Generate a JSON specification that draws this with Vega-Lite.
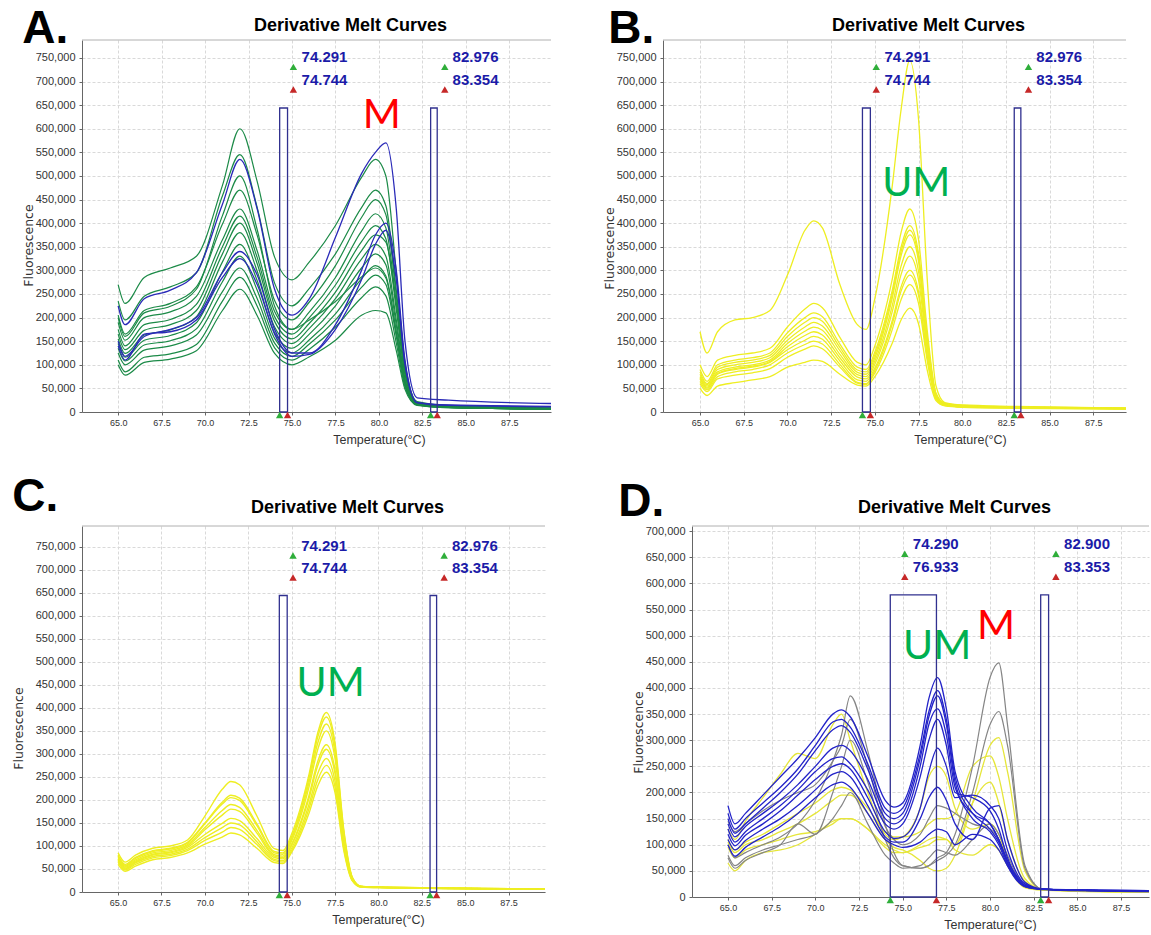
{
"$schema":"https://vega.github.io/schema/vega-lite/v6.json",
"padding":{"left":12,"top":5,"right":0,"bottom":0},
"spacing":27,
"resolve":{"scale":{"x":"independent","y":"independent"}},
"config":{
 "view":{"stroke":null},
 "title":{"font":"Liberation Sans, Arial, sans-serif","fontSize":18,"fontWeight":"bold","color":"#000000","dx":34,"offset":5,"anchor":"middle"},
 "axis":{"grid":true,"gridColor":"#d9d9d9","gridDash":[3,2],"domainColor":"#666666","tickColor":"#666666","labelColor":"#333333","titleColor":"#333333","titleFontWeight":"normal","tickSize":3,"labelOverlap":false},
 "axisX":{"labelFont":"Liberation Sans, Arial, sans-serif","labelFontSize":9,"labelPadding":3,"titleFont":"Liberation Sans, Arial, sans-serif","titleFontSize":12.5,"titlePadding":6},
 "axisY":{"labelFont":"Liberation Sans, Arial, sans-serif","labelFontSize":11,"labelPadding":4,"titleFont":"DejaVu Sans, sans-serif","titleFontSize":12.5,"titlePadding":0,"labelOverlap":false,"tickCount":16}
},
"datasets":{
"boxABC":[{"x1":74.291,"x2":74.744,"top":644000},{"x1":82.976,"x2":83.354,"top":644000}],
"triTopABC":[{"t":75.08,"f":731000,"k":"start"},{"t":75.08,"f":683000,"k":"end"},{"t":83.79,"f":731000,"k":"start"},{"t":83.79,"f":683000,"k":"end"}],
"triBotABC":[{"t":74.291,"f":0,"k":"start"},{"t":74.744,"f":0,"k":"end"},{"t":82.976,"f":0,"k":"start"},{"t":83.354,"f":0,"k":"end"}],
"labABC":[{"t":75.55,"f":752000,"label":"74.291"},{"t":75.55,"f":704000,"label":"74.744"},{"t":84.24,"f":752000,"label":"82.976"},{"t":84.24,"f":704000,"label":"83.354"}],
"boxD":[{"x1":74.29,"x2":76.933,"top":578000},{"x1":82.9,"x2":83.353,"top":578000}],
"triTopD":[{"t":75.12,"f":657000,"k":"start"},{"t":75.12,"f":613000,"k":"end"},{"t":83.77,"f":657000,"k":"start"},{"t":83.77,"f":613000,"k":"end"}],
"triBotD":[{"t":74.29,"f":0,"k":"start"},{"t":76.933,"f":0,"k":"end"},{"t":82.9,"f":0,"k":"start"},{"t":83.353,"f":0,"k":"end"}],
"labD":[{"t":75.58,"f":676000,"label":"74.290"},{"t":75.58,"f":632000,"label":"76.933"},{"t":84.24,"f":676000,"label":"82.900"},{"t":84.24,"f":632000,"label":"83.353"}],
"A_green":[
{"s":"g1","t":65,"f":270000},{"s":"g1","t":65.4,"f":230000},{"s":"g1","t":66.5,"f":285000},{"s":"g1","t":68,"f":305000},{"s":"g1","t":69.5,"f":330000},{"s":"g1","t":71,"f":480000},{"s":"g1","t":72,"f":600000},{"s":"g1","t":73,"f":488000},{"s":"g1","t":74,"f":328000},{"s":"g1","t":75,"f":280000},{"s":"g1","t":76,"f":318000},{"s":"g1","t":77.5,"f":395000},{"s":"g1","t":79,"f":497000},{"s":"g1","t":79.8,"f":535000},{"s":"g1","t":80.4,"f":500000},{"s":"g1","t":81,"f":295000},{"s":"g1","t":81.5,"f":105000},{"s":"g1","t":82.2,"f":22000},{"s":"g1","t":84,"f":14000},{"s":"g1","t":90,"f":9000},
{"s":"g2","t":65,"f":235000},{"s":"g2","t":65.4,"f":195000},{"s":"g2","t":66.5,"f":245000},{"s":"g2","t":68,"f":265000},{"s":"g2","t":69.5,"f":295000},{"s":"g2","t":71,"f":458000},{"s":"g2","t":72,"f":545000},{"s":"g2","t":73,"f":433000},{"s":"g2","t":74,"f":273000},{"s":"g2","t":75,"f":225000},{"s":"g2","t":76,"f":262000},{"s":"g2","t":77.5,"f":335000},{"s":"g2","t":79,"f":433000},{"s":"g2","t":79.8,"f":470000},{"s":"g2","t":80.4,"f":437000},{"s":"g2","t":81,"f":258000},{"s":"g2","t":81.5,"f":94000},{"s":"g2","t":82.2,"f":20000},{"s":"g2","t":84,"f":13000},{"s":"g2","t":90,"f":8000},
{"s":"g3","t":65,"f":205000},{"s":"g3","t":65.4,"f":165000},{"s":"g3","t":66.5,"f":215000},{"s":"g3","t":68,"f":230000},{"s":"g3","t":69.5,"f":265000},{"s":"g3","t":71,"f":398000},{"s":"g3","t":72,"f":470000},{"s":"g3","t":73,"f":374000},{"s":"g3","t":74,"f":236000},{"s":"g3","t":75,"f":195000},{"s":"g3","t":76,"f":233000},{"s":"g3","t":77.5,"f":310000},{"s":"g3","t":79,"f":412000},{"s":"g3","t":79.8,"f":450000},{"s":"g3","t":80.4,"f":418000},{"s":"g3","t":81,"f":248000},{"s":"g3","t":81.5,"f":90000},{"s":"g3","t":82.2,"f":19000},{"s":"g3","t":84,"f":12000},{"s":"g3","t":90,"f":8000},
{"s":"g4","t":65,"f":190000},{"s":"g4","t":65.4,"f":152000},{"s":"g4","t":66.5,"f":200000},{"s":"g4","t":68,"f":212000},{"s":"g4","t":69.5,"f":245000},{"s":"g4","t":71,"f":365000},{"s":"g4","t":72,"f":430000},{"s":"g4","t":73,"f":341000},{"s":"g4","t":74,"f":213000},{"s":"g4","t":75,"f":175000},{"s":"g4","t":76,"f":212000},{"s":"g4","t":77.5,"f":285000},{"s":"g4","t":79,"f":383000},{"s":"g4","t":79.8,"f":420000},{"s":"g4","t":80.4,"f":390000},{"s":"g4","t":81,"f":231000},{"s":"g4","t":81.5,"f":84000},{"s":"g4","t":82.2,"f":18000},{"s":"g4","t":84,"f":12000},{"s":"g4","t":90,"f":7000},
{"s":"g5","t":65,"f":175000},{"s":"g5","t":65.4,"f":140000},{"s":"g5","t":66.5,"f":185000},{"s":"g5","t":68,"f":196000},{"s":"g5","t":69.5,"f":228000},{"s":"g5","t":71,"f":350000},{"s":"g5","t":72,"f":415000},{"s":"g5","t":73,"f":327000},{"s":"g5","t":74,"f":202000},{"s":"g5","t":75,"f":165000},{"s":"g5","t":76,"f":200000},{"s":"g5","t":77.5,"f":269000},{"s":"g5","t":79,"f":361000},{"s":"g5","t":79.8,"f":395000},{"s":"g5","t":80.4,"f":367000},{"s":"g5","t":81,"f":217000},{"s":"g5","t":81.5,"f":79000},{"s":"g5","t":82.2,"f":18000},{"s":"g5","t":84,"f":11000},{"s":"g5","t":90,"f":7000},
{"s":"g6","t":65,"f":165000},{"s":"g6","t":65.4,"f":132000},{"s":"g6","t":66.5,"f":173000},{"s":"g6","t":68,"f":185000},{"s":"g6","t":69.5,"f":215000},{"s":"g6","t":71,"f":335000},{"s":"g6","t":72,"f":400000},{"s":"g6","t":73,"f":314000},{"s":"g6","t":74,"f":192000},{"s":"g6","t":75,"f":155000},{"s":"g6","t":76,"f":188000},{"s":"g6","t":77.5,"f":254000},{"s":"g6","t":79,"f":342000},{"s":"g6","t":79.8,"f":375000},{"s":"g6","t":80.4,"f":360000},{"s":"g6","t":81,"f":230000},{"s":"g6","t":81.5,"f":85000},{"s":"g6","t":82.2,"f":18000},{"s":"g6","t":84,"f":11000},{"s":"g6","t":90,"f":7000},
{"s":"g7","t":65,"f":155000},{"s":"g7","t":65.4,"f":124000},{"s":"g7","t":66.5,"f":163000},{"s":"g7","t":68,"f":174000},{"s":"g7","t":69.5,"f":202000},{"s":"g7","t":71,"f":318000},{"s":"g7","t":72,"f":380000},{"s":"g7","t":73,"f":298000},{"s":"g7","t":74,"f":180000},{"s":"g7","t":75,"f":145000},{"s":"g7","t":76,"f":177000},{"s":"g7","t":77.5,"f":240000},{"s":"g7","t":79,"f":324000},{"s":"g7","t":79.8,"f":355000},{"s":"g7","t":80.4,"f":330000},{"s":"g7","t":81,"f":195000},{"s":"g7","t":81.5,"f":71000},{"s":"g7","t":82.2,"f":17000},{"s":"g7","t":84,"f":11000},{"s":"g7","t":90,"f":7000},
{"s":"g8","t":65,"f":145000},{"s":"g8","t":65.4,"f":116000},{"s":"g8","t":66.5,"f":152000},{"s":"g8","t":68,"f":162000},{"s":"g8","t":69.5,"f":189000},{"s":"g8","t":71,"f":297000},{"s":"g8","t":72,"f":355000},{"s":"g8","t":73,"f":278000},{"s":"g8","t":74,"f":168000},{"s":"g8","t":75,"f":135000},{"s":"g8","t":76,"f":165000},{"s":"g8","t":77.5,"f":225000},{"s":"g8","t":79,"f":305000},{"s":"g8","t":79.8,"f":335000},{"s":"g8","t":80.4,"f":312000},{"s":"g8","t":81,"f":184000},{"s":"g8","t":81.5,"f":67000},{"s":"g8","t":82.2,"f":16000},{"s":"g8","t":84,"f":10000},{"s":"g8","t":90,"f":7000},
{"s":"g9","t":65,"f":135000},{"s":"g9","t":65.4,"f":108000},{"s":"g9","t":66.5,"f":142000},{"s":"g9","t":68,"f":151000},{"s":"g9","t":69.5,"f":176000},{"s":"g9","t":71,"f":276000},{"s":"g9","t":72,"f":330000},{"s":"g9","t":73,"f":258000},{"s":"g9","t":74,"f":156000},{"s":"g9","t":75,"f":125000},{"s":"g9","t":76,"f":153000},{"s":"g9","t":77.5,"f":208000},{"s":"g9","t":79,"f":282000},{"s":"g9","t":79.8,"f":310000},{"s":"g9","t":80.4,"f":288000},{"s":"g9","t":81,"f":170000},{"s":"g9","t":81.5,"f":62000},{"s":"g9","t":82.2,"f":16000},{"s":"g9","t":84,"f":10000},{"s":"g9","t":90,"f":6000},
{"s":"g10","t":65,"f":125000},{"s":"g10","t":65.4,"f":100000},{"s":"g10","t":66.5,"f":131000},{"s":"g10","t":68,"f":140000},{"s":"g10","t":69.5,"f":163000},{"s":"g10","t":71,"f":255000},{"s":"g10","t":72,"f":305000},{"s":"g10","t":73,"f":240000},{"s":"g10","t":74,"f":146000},{"s":"g10","t":75,"f":118000},{"s":"g10","t":76,"f":144000},{"s":"g10","t":77.5,"f":195000},{"s":"g10","t":79,"f":264000},{"s":"g10","t":79.8,"f":290000},{"s":"g10","t":80.4,"f":270000},{"s":"g10","t":81,"f":160000},{"s":"g10","t":81.5,"f":58000},{"s":"g10","t":82.2,"f":15000},{"s":"g10","t":84,"f":10000},{"s":"g10","t":90,"f":6000},
{"s":"g11","t":65,"f":110000},{"s":"g11","t":65.4,"f":85000},{"s":"g11","t":66.5,"f":116000},{"s":"g11","t":68,"f":123000},{"s":"g11","t":69.5,"f":143000},{"s":"g11","t":71,"f":235000},{"s":"g11","t":72,"f":285000},{"s":"g11","t":73,"f":224000},{"s":"g11","t":74,"f":136000},{"s":"g11","t":75,"f":110000},{"s":"g11","t":76,"f":133000},{"s":"g11","t":77.5,"f":180000},{"s":"g11","t":79,"f":242000},{"s":"g11","t":79.8,"f":265000},{"s":"g11","t":80.4,"f":246000},{"s":"g11","t":81,"f":146000},{"s":"g11","t":81.5,"f":53000},{"s":"g11","t":82.2,"f":15000},{"s":"g11","t":84,"f":9000},{"s":"g11","t":90,"f":6000},
{"s":"g12","t":65,"f":100000},{"s":"g12","t":65.4,"f":78000},{"s":"g12","t":66.5,"f":105000},{"s":"g12","t":68,"f":112000},{"s":"g12","t":69.5,"f":130000},{"s":"g12","t":71,"f":215000},{"s":"g12","t":72,"f":260000},{"s":"g12","t":73,"f":204000},{"s":"g12","t":74,"f":124000},{"s":"g12","t":75,"f":100000},{"s":"g12","t":76,"f":117000},{"s":"g12","t":77.5,"f":152000},{"s":"g12","t":79,"f":205000},{"s":"g12","t":79.8,"f":215000},{"s":"g12","t":80.4,"f":210000},{"s":"g12","t":81,"f":130000},{"s":"g12","t":81.5,"f":48000},{"s":"g12","t":82.2,"f":14000},{"s":"g12","t":84,"f":9000},{"s":"g12","t":90,"f":6000},
{"s":"g13","t":65,"f":200000},{"s":"g13","t":65.4,"f":160000},{"s":"g13","t":66.5,"f":210000},{"s":"g13","t":68,"f":224000},{"s":"g13","t":69.5,"f":260000},{"s":"g13","t":71,"f":416000},{"s":"g13","t":72,"f":500000},{"s":"g13","t":73,"f":386000},{"s":"g13","t":74,"f":224000},{"s":"g13","t":75,"f":175000},{"s":"g13","t":76,"f":195000},{"s":"g13","t":77.5,"f":234000},{"s":"g13","t":79,"f":286000},{"s":"g13","t":79.8,"f":305000},{"s":"g13","t":80.4,"f":284000},{"s":"g13","t":81,"f":168000},{"s":"g13","t":81.5,"f":61000},{"s":"g13","t":82.2,"f":16000},{"s":"g13","t":84,"f":10000},{"s":"g13","t":90,"f":7000}
],
"A_blue":[
{"s":"b1","t":65,"f":225000},{"s":"b1","t":65.4,"f":185000},{"s":"b1","t":66.5,"f":240000},{"s":"b1","t":68,"f":258000},{"s":"b1","t":69.5,"f":295000},{"s":"b1","t":71,"f":440000},{"s":"b1","t":72,"f":535000},{"s":"b1","t":73,"f":430000},{"s":"b1","t":74,"f":260000},{"s":"b1","t":75,"f":205000},{"s":"b1","t":76,"f":240000},{"s":"b1","t":77.5,"f":370000},{"s":"b1","t":79,"f":505000},{"s":"b1","t":79.8,"f":550000},{"s":"b1","t":80.4,"f":570000},{"s":"b1","t":81,"f":430000},{"s":"b1","t":81.5,"f":150000},{"s":"b1","t":82.2,"f":30000},{"s":"b1","t":84,"f":25000},{"s":"b1","t":90,"f":18000},
{"s":"b2","t":65,"f":150000},{"s":"b2","t":65.4,"f":118000},{"s":"b2","t":66.5,"f":160000},{"s":"b2","t":68,"f":175000},{"s":"b2","t":69.5,"f":200000},{"s":"b2","t":71,"f":295000},{"s":"b2","t":72,"f":340000},{"s":"b2","t":73,"f":290000},{"s":"b2","t":74,"f":175000},{"s":"b2","t":75,"f":125000},{"s":"b2","t":76,"f":125000},{"s":"b2","t":77.5,"f":185000},{"s":"b2","t":79,"f":300000},{"s":"b2","t":79.8,"f":375000},{"s":"b2","t":80.4,"f":400000},{"s":"b2","t":81,"f":300000},{"s":"b2","t":81.5,"f":110000},{"s":"b2","t":82.2,"f":20000},{"s":"b2","t":84,"f":15000},{"s":"b2","t":90,"f":12000},
{"s":"b3","t":65,"f":140000},{"s":"b3","t":65.4,"f":110000},{"s":"b3","t":66.5,"f":165000},{"s":"b3","t":68,"f":170000},{"s":"b3","t":69.5,"f":195000},{"s":"b3","t":71,"f":285000},{"s":"b3","t":72,"f":325000},{"s":"b3","t":73,"f":270000},{"s":"b3","t":74,"f":165000},{"s":"b3","t":75,"f":118000},{"s":"b3","t":76,"f":122000},{"s":"b3","t":77.5,"f":175000},{"s":"b3","t":79,"f":280000},{"s":"b3","t":79.8,"f":355000},{"s":"b3","t":80.4,"f":385000},{"s":"b3","t":81,"f":280000},{"s":"b3","t":81.5,"f":100000},{"s":"b3","t":82.2,"f":20000},{"s":"b3","t":84,"f":14000},{"s":"b3","t":90,"f":11000}
],
"B_yellow":[
{"s":"y1","t":65,"f":170000},{"s":"y1","t":65.4,"f":125000},{"s":"y1","t":66,"f":170000},{"s":"y1","t":67,"f":195000},{"s":"y1","t":68,"f":200000},{"s":"y1","t":69,"f":215000},{"s":"y1","t":70,"f":290000},{"s":"y1","t":71,"f":385000},{"s":"y1","t":71.5,"f":405000},{"s":"y1","t":72,"f":390000},{"s":"y1","t":73,"f":270000},{"s":"y1","t":74,"f":185000},{"s":"y1","t":74.5,"f":175000},{"s":"y1","t":75,"f":240000},{"s":"y1","t":76,"f":480000},{"s":"y1","t":76.5,"f":640000},{"s":"y1","t":77,"f":745000},{"s":"y1","t":77.5,"f":620000},{"s":"y1","t":78,"f":280000},{"s":"y1","t":78.5,"f":55000},{"s":"y1","t":79,"f":20000},{"s":"y1","t":80,"f":15000},{"s":"y1","t":83,"f":12000},{"s":"y1","t":90,"f":8000},
{"s":"y2","t":65,"f":100000},{"s":"y2","t":65.4,"f":75000},{"s":"y2","t":66,"f":110000},{"s":"y2","t":67,"f":120000},{"s":"y2","t":68,"f":125000},{"s":"y2","t":69,"f":135000},{"s":"y2","t":70,"f":180000},{"s":"y2","t":71,"f":218000},{"s":"y2","t":71.5,"f":230000},{"s":"y2","t":72,"f":221000},{"s":"y2","t":73,"f":158000},{"s":"y2","t":74,"f":105000},{"s":"y2","t":74.5,"f":100000},{"s":"y2","t":75,"f":140000},{"s":"y2","t":76,"f":282000},{"s":"y2","t":76.5,"f":380000},{"s":"y2","t":77,"f":430000},{"s":"y2","t":77.5,"f":365000},{"s":"y2","t":78,"f":172000},{"s":"y2","t":78.5,"f":40000},{"s":"y2","t":79,"f":18000},{"s":"y2","t":80,"f":14000},{"s":"y2","t":83,"f":11000},{"s":"y2","t":90,"f":8000},
{"s":"y3","t":65,"f":90000},{"s":"y3","t":65.4,"f":65000},{"s":"y3","t":66,"f":100000},{"s":"y3","t":67,"f":110000},{"s":"y3","t":68,"f":115000},{"s":"y3","t":69,"f":125000},{"s":"y3","t":70,"f":168000},{"s":"y3","t":71,"f":200000},{"s":"y3","t":71.5,"f":210000},{"s":"y3","t":72,"f":202000},{"s":"y3","t":73,"f":144000},{"s":"y3","t":74,"f":95000},{"s":"y3","t":74.5,"f":90000},{"s":"y3","t":75,"f":127000},{"s":"y3","t":76,"f":258000},{"s":"y3","t":76.5,"f":349000},{"s":"y3","t":77,"f":395000},{"s":"y3","t":77.5,"f":336000},{"s":"y3","t":78,"f":158000},{"s":"y3","t":78.5,"f":38000},{"s":"y3","t":79,"f":17000},{"s":"y3","t":80,"f":13000},{"s":"y3","t":83,"f":11000},{"s":"y3","t":90,"f":8000},
{"s":"y4","t":65,"f":85000},{"s":"y4","t":65.4,"f":60000},{"s":"y4","t":66,"f":95000},{"s":"y4","t":67,"f":105000},{"s":"y4","t":68,"f":110000},{"s":"y4","t":69,"f":120000},{"s":"y4","t":70,"f":160000},{"s":"y4","t":71,"f":190000},{"s":"y4","t":71.5,"f":200000},{"s":"y4","t":72,"f":192000},{"s":"y4","t":73,"f":137000},{"s":"y4","t":74,"f":89000},{"s":"y4","t":74.5,"f":85000},{"s":"y4","t":75,"f":121000},{"s":"y4","t":76,"f":250000},{"s":"y4","t":76.5,"f":340000},{"s":"y4","t":77,"f":385000},{"s":"y4","t":77.5,"f":327000},{"s":"y4","t":78,"f":154000},{"s":"y4","t":78.5,"f":37000},{"s":"y4","t":79,"f":17000},{"s":"y4","t":80,"f":13000},{"s":"y4","t":83,"f":10000},{"s":"y4","t":90,"f":8000},
{"s":"y5","t":65,"f":80000},{"s":"y5","t":65.4,"f":58000},{"s":"y5","t":66,"f":90000},{"s":"y5","t":67,"f":100000},{"s":"y5","t":68,"f":105000},{"s":"y5","t":69,"f":115000},{"s":"y5","t":70,"f":152000},{"s":"y5","t":71,"f":180000},{"s":"y5","t":71.5,"f":190000},{"s":"y5","t":72,"f":182000},{"s":"y5","t":73,"f":130000},{"s":"y5","t":74,"f":84000},{"s":"y5","t":74.5,"f":80000},{"s":"y5","t":75,"f":115000},{"s":"y5","t":76,"f":242000},{"s":"y5","t":76.5,"f":331000},{"s":"y5","t":77,"f":375000},{"s":"y5","t":77.5,"f":319000},{"s":"y5","t":78,"f":150000},{"s":"y5","t":78.5,"f":36000},{"s":"y5","t":79,"f":16000},{"s":"y5","t":80,"f":12000},{"s":"y5","t":83,"f":10000},{"s":"y5","t":90,"f":7000},
{"s":"y6","t":65,"f":75000},{"s":"y6","t":65.4,"f":55000},{"s":"y6","t":66,"f":85000},{"s":"y6","t":67,"f":95000},{"s":"y6","t":68,"f":100000},{"s":"y6","t":69,"f":110000},{"s":"y6","t":70,"f":145000},{"s":"y6","t":71,"f":171000},{"s":"y6","t":71.5,"f":180000},{"s":"y6","t":72,"f":173000},{"s":"y6","t":73,"f":122000},{"s":"y6","t":74,"f":79000},{"s":"y6","t":74.5,"f":75000},{"s":"y6","t":75,"f":108000},{"s":"y6","t":76,"f":226000},{"s":"y6","t":76.5,"f":309000},{"s":"y6","t":77,"f":350000},{"s":"y6","t":77.5,"f":298000},{"s":"y6","t":78,"f":140000},{"s":"y6","t":78.5,"f":34000},{"s":"y6","t":79,"f":16000},{"s":"y6","t":80,"f":12000},{"s":"y6","t":83,"f":10000},{"s":"y6","t":90,"f":7000},
{"s":"y7","t":65,"f":72000},{"s":"y7","t":65.4,"f":52000},{"s":"y7","t":66,"f":82000},{"s":"y7","t":67,"f":92000},{"s":"y7","t":68,"f":97000},{"s":"y7","t":69,"f":107000},{"s":"y7","t":70,"f":138000},{"s":"y7","t":71,"f":162000},{"s":"y7","t":71.5,"f":170000},{"s":"y7","t":72,"f":163000},{"s":"y7","t":73,"f":115000},{"s":"y7","t":74,"f":74000},{"s":"y7","t":74.5,"f":70000},{"s":"y7","t":75,"f":101000},{"s":"y7","t":76,"f":213000},{"s":"y7","t":76.5,"f":291000},{"s":"y7","t":77,"f":330000},{"s":"y7","t":77.5,"f":280000},{"s":"y7","t":78,"f":132000},{"s":"y7","t":78.5,"f":33000},{"s":"y7","t":79,"f":15000},{"s":"y7","t":80,"f":12000},{"s":"y7","t":83,"f":10000},{"s":"y7","t":90,"f":7000},
{"s":"y8","t":65,"f":70000},{"s":"y8","t":65.4,"f":50000},{"s":"y8","t":66,"f":80000},{"s":"y8","t":67,"f":90000},{"s":"y8","t":68,"f":95000},{"s":"y8","t":69,"f":105000},{"s":"y8","t":70,"f":132000},{"s":"y8","t":71,"f":152000},{"s":"y8","t":71.5,"f":160000},{"s":"y8","t":72,"f":154000},{"s":"y8","t":73,"f":108000},{"s":"y8","t":74,"f":68000},{"s":"y8","t":74.5,"f":65000},{"s":"y8","t":75,"f":93000},{"s":"y8","t":76,"f":194000},{"s":"y8","t":76.5,"f":265000},{"s":"y8","t":77,"f":300000},{"s":"y8","t":77.5,"f":255000},{"s":"y8","t":78,"f":120000},{"s":"y8","t":78.5,"f":30000},{"s":"y8","t":79,"f":15000},{"s":"y8","t":80,"f":11000},{"s":"y8","t":83,"f":9000},{"s":"y8","t":90,"f":7000},
{"s":"y9","t":65,"f":65000},{"s":"y9","t":65.4,"f":47000},{"s":"y9","t":66,"f":75000},{"s":"y9","t":67,"f":85000},{"s":"y9","t":68,"f":90000},{"s":"y9","t":69,"f":100000},{"s":"y9","t":70,"f":125000},{"s":"y9","t":71,"f":143000},{"s":"y9","t":71.5,"f":150000},{"s":"y9","t":72,"f":144000},{"s":"y9","t":73,"f":101000},{"s":"y9","t":74,"f":63000},{"s":"y9","t":74.5,"f":60000},{"s":"y9","t":75,"f":88000},{"s":"y9","t":76,"f":187000},{"s":"y9","t":76.5,"f":256000},{"s":"y9","t":77,"f":290000},{"s":"y9","t":77.5,"f":247000},{"s":"y9","t":78,"f":116000},{"s":"y9","t":78.5,"f":29000},{"s":"y9","t":79,"f":14000},{"s":"y9","t":80,"f":11000},{"s":"y9","t":83,"f":9000},{"s":"y9","t":90,"f":7000},
{"s":"y10","t":65,"f":60000},{"s":"y10","t":65.4,"f":43000},{"s":"y10","t":66,"f":70000},{"s":"y10","t":67,"f":78000},{"s":"y10","t":68,"f":83000},{"s":"y10","t":69,"f":92000},{"s":"y10","t":70,"f":116000},{"s":"y10","t":71,"f":133000},{"s":"y10","t":71.5,"f":140000},{"s":"y10","t":72,"f":134000},{"s":"y10","t":73,"f":95000},{"s":"y10","t":74,"f":61000},{"s":"y10","t":74.5,"f":58000},{"s":"y10","t":75,"f":83000},{"s":"y10","t":76,"f":175000},{"s":"y10","t":76.5,"f":238000},{"s":"y10","t":77,"f":270000},{"s":"y10","t":77.5,"f":230000},{"s":"y10","t":78,"f":108000},{"s":"y10","t":78.5,"f":27000},{"s":"y10","t":79,"f":14000},{"s":"y10","t":80,"f":11000},{"s":"y10","t":83,"f":9000},{"s":"y10","t":90,"f":6000},
{"s":"y11","t":65,"f":50000},{"s":"y11","t":65.4,"f":35000},{"s":"y11","t":66,"f":55000},{"s":"y11","t":67,"f":62000},{"s":"y11","t":68,"f":68000},{"s":"y11","t":69,"f":75000},{"s":"y11","t":70,"f":95000},{"s":"y11","t":71,"f":105000},{"s":"y11","t":71.5,"f":110000},{"s":"y11","t":72,"f":107000},{"s":"y11","t":73,"f":80000},{"s":"y11","t":74,"f":57000},{"s":"y11","t":74.5,"f":55000},{"s":"y11","t":75,"f":75000},{"s":"y11","t":76,"f":146000},{"s":"y11","t":76.5,"f":195000},{"s":"y11","t":77,"f":220000},{"s":"y11","t":77.5,"f":187000},{"s":"y11","t":78,"f":88000},{"s":"y11","t":78.5,"f":24000},{"s":"y11","t":79,"f":13000},{"s":"y11","t":80,"f":10000},{"s":"y11","t":83,"f":8000},{"s":"y11","t":90,"f":6000}
],
"C_yellow":[
{"s":"c1","t":65,"f":85000},{"s":"c1","t":65.4,"f":65000},{"s":"c1","t":66,"f":80000},{"s":"c1","t":67,"f":95000},{"s":"c1","t":68,"f":100000},{"s":"c1","t":69,"f":113000},{"s":"c1","t":70,"f":165000},{"s":"c1","t":71,"f":223000},{"s":"c1","t":71.5,"f":240000},{"s":"c1","t":72,"f":233000},{"s":"c1","t":73,"f":165000},{"s":"c1","t":74,"f":94000},{"s":"c1","t":74.5,"f":90000},{"s":"c1","t":75,"f":126000},{"s":"c1","t":76,"f":255000},{"s":"c1","t":76.5,"f":345000},{"s":"c1","t":77,"f":390000},{"s":"c1","t":77.5,"f":324000},{"s":"c1","t":78,"f":137000},{"s":"c1","t":78.5,"f":32000},{"s":"c1","t":79,"f":12000},{"s":"c1","t":80,"f":11000},{"s":"c1","t":83,"f":9000},{"s":"c1","t":90,"f":6000},
{"s":"c2","t":65,"f":80000},{"s":"c2","t":65.4,"f":60000},{"s":"c2","t":66,"f":75000},{"s":"c2","t":67,"f":90000},{"s":"c2","t":68,"f":95000},{"s":"c2","t":69,"f":108000},{"s":"c2","t":70,"f":150000},{"s":"c2","t":71,"f":195000},{"s":"c2","t":71.5,"f":210000},{"s":"c2","t":72,"f":204000},{"s":"c2","t":73,"f":148000},{"s":"c2","t":74,"f":88000},{"s":"c2","t":74.5,"f":85000},{"s":"c2","t":75,"f":120000},{"s":"c2","t":76,"f":247000},{"s":"c2","t":76.5,"f":336000},{"s":"c2","t":77,"f":380000},{"s":"c2","t":77.5,"f":315000},{"s":"c2","t":78,"f":133000},{"s":"c2","t":78.5,"f":31000},{"s":"c2","t":79,"f":12000},{"s":"c2","t":80,"f":11000},{"s":"c2","t":83,"f":9000},{"s":"c2","t":90,"f":6000},
{"s":"c3","t":65,"f":78000},{"s":"c3","t":65.4,"f":58000},{"s":"c3","t":66,"f":73000},{"s":"c3","t":67,"f":88000},{"s":"c3","t":68,"f":93000},{"s":"c3","t":69,"f":106000},{"s":"c3","t":70,"f":148000},{"s":"c3","t":71,"f":191000},{"s":"c3","t":71.5,"f":205000},{"s":"c3","t":72,"f":199000},{"s":"c3","t":73,"f":144000},{"s":"c3","t":74,"f":85000},{"s":"c3","t":74.5,"f":82000},{"s":"c3","t":75,"f":116000},{"s":"c3","t":76,"f":238000},{"s":"c3","t":76.5,"f":323000},{"s":"c3","t":77,"f":365000},{"s":"c3","t":77.5,"f":303000},{"s":"c3","t":78,"f":128000},{"s":"c3","t":78.5,"f":30000},{"s":"c3","t":79,"f":12000},{"s":"c3","t":80,"f":10000},{"s":"c3","t":83,"f":9000},{"s":"c3","t":90,"f":6000},
{"s":"c4","t":65,"f":75000},{"s":"c4","t":65.4,"f":56000},{"s":"c4","t":66,"f":70000},{"s":"c4","t":67,"f":85000},{"s":"c4","t":68,"f":90000},{"s":"c4","t":69,"f":103000},{"s":"c4","t":70,"f":140000},{"s":"c4","t":71,"f":177000},{"s":"c4","t":71.5,"f":190000},{"s":"c4","t":72,"f":184000},{"s":"c4","t":73,"f":134000},{"s":"c4","t":74,"f":81000},{"s":"c4","t":74.5,"f":78000},{"s":"c4","t":75,"f":111000},{"s":"c4","t":76,"f":228000},{"s":"c4","t":76.5,"f":309000},{"s":"c4","t":77,"f":350000},{"s":"c4","t":77.5,"f":290000},{"s":"c4","t":78,"f":123000},{"s":"c4","t":78.5,"f":29000},{"s":"c4","t":79,"f":12000},{"s":"c4","t":80,"f":10000},{"s":"c4","t":83,"f":8000},{"s":"c4","t":90,"f":6000},
{"s":"c5","t":65,"f":72000},{"s":"c5","t":65.4,"f":54000},{"s":"c5","t":66,"f":67000},{"s":"c5","t":67,"f":82000},{"s":"c5","t":68,"f":87000},{"s":"c5","t":69,"f":100000},{"s":"c5","t":70,"f":135000},{"s":"c5","t":71,"f":167000},{"s":"c5","t":71.5,"f":180000},{"s":"c5","t":72,"f":175000},{"s":"c5","t":73,"f":128000},{"s":"c5","t":74,"f":78000},{"s":"c5","t":74.5,"f":75000},{"s":"c5","t":75,"f":104000},{"s":"c5","t":76,"f":210000},{"s":"c5","t":76.5,"f":283000},{"s":"c5","t":77,"f":320000},{"s":"c5","t":77.5,"f":266000},{"s":"c5","t":78,"f":112000},{"s":"c5","t":78.5,"f":28000},{"s":"c5","t":79,"f":12000},{"s":"c5","t":80,"f":10000},{"s":"c5","t":83,"f":8000},{"s":"c5","t":90,"f":6000},
{"s":"c6","t":65,"f":70000},{"s":"c6","t":65.4,"f":52000},{"s":"c6","t":66,"f":65000},{"s":"c6","t":67,"f":80000},{"s":"c6","t":68,"f":85000},{"s":"c6","t":69,"f":97000},{"s":"c6","t":70,"f":125000},{"s":"c6","t":71,"f":149000},{"s":"c6","t":71.5,"f":160000},{"s":"c6","t":72,"f":155000},{"s":"c6","t":73,"f":116000},{"s":"c6","t":74,"f":75000},{"s":"c6","t":74.5,"f":72000},{"s":"c6","t":75,"f":101000},{"s":"c6","t":76,"f":203000},{"s":"c6","t":76.5,"f":274000},{"s":"c6","t":77,"f":310000},{"s":"c6","t":77.5,"f":257000},{"s":"c6","t":78,"f":109000},{"s":"c6","t":78.5,"f":27000},{"s":"c6","t":79,"f":12000},{"s":"c6","t":80,"f":10000},{"s":"c6","t":83,"f":8000},{"s":"c6","t":90,"f":6000},
{"s":"c7","t":65,"f":68000},{"s":"c7","t":65.4,"f":50000},{"s":"c7","t":66,"f":63000},{"s":"c7","t":67,"f":77000},{"s":"c7","t":68,"f":82000},{"s":"c7","t":69,"f":93000},{"s":"c7","t":70,"f":118000},{"s":"c7","t":71,"f":140000},{"s":"c7","t":71.5,"f":150000},{"s":"c7","t":72,"f":146000},{"s":"c7","t":73,"f":109000},{"s":"c7","t":74,"f":71000},{"s":"c7","t":74.5,"f":68000},{"s":"c7","t":75,"f":95000},{"s":"c7","t":76,"f":190000},{"s":"c7","t":76.5,"f":257000},{"s":"c7","t":77,"f":290000},{"s":"c7","t":77.5,"f":241000},{"s":"c7","t":78,"f":102000},{"s":"c7","t":78.5,"f":26000},{"s":"c7","t":79,"f":11000},{"s":"c7","t":80,"f":10000},{"s":"c7","t":83,"f":8000},{"s":"c7","t":90,"f":6000},
{"s":"c8","t":65,"f":65000},{"s":"c8","t":65.4,"f":48000},{"s":"c8","t":66,"f":60000},{"s":"c8","t":67,"f":74000},{"s":"c8","t":68,"f":79000},{"s":"c8","t":69,"f":90000},{"s":"c8","t":70,"f":112000},{"s":"c8","t":71,"f":130000},{"s":"c8","t":71.5,"f":140000},{"s":"c8","t":72,"f":136000},{"s":"c8","t":73,"f":103000},{"s":"c8","t":74,"f":68000},{"s":"c8","t":74.5,"f":65000},{"s":"c8","t":75,"f":90000},{"s":"c8","t":76,"f":181000},{"s":"c8","t":76.5,"f":243000},{"s":"c8","t":77,"f":275000},{"s":"c8","t":77.5,"f":228000},{"s":"c8","t":78,"f":96000},{"s":"c8","t":78.5,"f":25000},{"s":"c8","t":79,"f":11000},{"s":"c8","t":80,"f":10000},{"s":"c8","t":83,"f":8000},{"s":"c8","t":90,"f":6000},
{"s":"c9","t":65,"f":60000},{"s":"c9","t":65.4,"f":45000},{"s":"c9","t":66,"f":56000},{"s":"c9","t":67,"f":70000},{"s":"c9","t":68,"f":75000},{"s":"c9","t":69,"f":85000},{"s":"c9","t":70,"f":104000},{"s":"c9","t":71,"f":119000},{"s":"c9","t":71.5,"f":128000},{"s":"c9","t":72,"f":124000},{"s":"c9","t":73,"f":95000},{"s":"c9","t":74,"f":64000},{"s":"c9","t":74.5,"f":62000},{"s":"c9","t":75,"f":86000},{"s":"c9","t":76,"f":171000},{"s":"c9","t":76.5,"f":230000},{"s":"c9","t":77,"f":260000},{"s":"c9","t":77.5,"f":216000},{"s":"c9","t":78,"f":91000},{"s":"c9","t":78.5,"f":24000},{"s":"c9","t":79,"f":11000},{"s":"c9","t":80,"f":9000},{"s":"c9","t":83,"f":8000},{"s":"c9","t":90,"f":6000}
],
"D_blue":[
{"s":"b1","t":65,"f":175000},{"s":"b1","t":65.4,"f":140000},{"s":"b1","t":66,"f":160000},{"s":"b1","t":67,"f":195000},{"s":"b1","t":68,"f":230000},{"s":"b1","t":69,"f":265000},{"s":"b1","t":70,"f":305000},{"s":"b1","t":71,"f":350000},{"s":"b1","t":71.5,"f":358000},{"s":"b1","t":72,"f":345000},{"s":"b1","t":73,"f":270000},{"s":"b1","t":74,"f":185000},{"s":"b1","t":74.5,"f":172000},{"s":"b1","t":75,"f":180000},{"s":"b1","t":76,"f":290000},{"s":"b1","t":76.5,"f":380000},{"s":"b1","t":77,"f":420000},{"s":"b1","t":77.5,"f":360000},{"s":"b1","t":78,"f":240000},{"s":"b1","t":79,"f":170000},{"s":"b1","t":80,"f":140000},{"s":"b1","t":80.5,"f":110000},{"s":"b1","t":81,"f":70000},{"s":"b1","t":82,"f":25000},{"s":"b1","t":83,"f":15000},{"s":"b1","t":85,"f":14000},{"s":"b1","t":90,"f":12000},
{"s":"b2","t":65,"f":160000},{"s":"b2","t":65.4,"f":130000},{"s":"b2","t":66,"f":150000},{"s":"b2","t":67,"f":180000},{"s":"b2","t":68,"f":210000},{"s":"b2","t":69,"f":245000},{"s":"b2","t":70,"f":290000},{"s":"b2","t":71,"f":335000},{"s":"b2","t":71.5,"f":340000},{"s":"b2","t":72,"f":325000},{"s":"b2","t":73,"f":255000},{"s":"b2","t":74,"f":170000},{"s":"b2","t":74.5,"f":160000},{"s":"b2","t":75,"f":170000},{"s":"b2","t":76,"f":275000},{"s":"b2","t":76.5,"f":355000},{"s":"b2","t":77,"f":395000},{"s":"b2","t":77.5,"f":340000},{"s":"b2","t":78,"f":230000},{"s":"b2","t":79,"f":160000},{"s":"b2","t":80,"f":130000},{"s":"b2","t":80.5,"f":105000},{"s":"b2","t":81,"f":65000},{"s":"b2","t":82,"f":22000},{"s":"b2","t":83,"f":15000},{"s":"b2","t":85,"f":13000},{"s":"b2","t":90,"f":12000},
{"s":"b3","t":65,"f":150000},{"s":"b3","t":65.4,"f":122000},{"s":"b3","t":66,"f":140000},{"s":"b3","t":67,"f":170000},{"s":"b3","t":68,"f":200000},{"s":"b3","t":69,"f":235000},{"s":"b3","t":70,"f":280000},{"s":"b3","t":71,"f":320000},{"s":"b3","t":71.5,"f":328000},{"s":"b3","t":72,"f":315000},{"s":"b3","t":73,"f":245000},{"s":"b3","t":74,"f":160000},{"s":"b3","t":74.5,"f":150000},{"s":"b3","t":75,"f":160000},{"s":"b3","t":76,"f":265000},{"s":"b3","t":76.5,"f":345000},{"s":"b3","t":77,"f":385000},{"s":"b3","t":77.5,"f":330000},{"s":"b3","t":78,"f":220000},{"s":"b3","t":79,"f":150000},{"s":"b3","t":80,"f":125000},{"s":"b3","t":80.5,"f":100000},{"s":"b3","t":81,"f":60000},{"s":"b3","t":82,"f":20000},{"s":"b3","t":83,"f":15000},{"s":"b3","t":85,"f":13000},{"s":"b3","t":90,"f":11000},
{"s":"b4","t":65,"f":140000},{"s":"b4","t":65.4,"f":115000},{"s":"b4","t":66,"f":135000},{"s":"b4","t":67,"f":160000},{"s":"b4","t":68,"f":185000},{"s":"b4","t":69,"f":215000},{"s":"b4","t":70,"f":250000},{"s":"b4","t":71,"f":285000},{"s":"b4","t":71.5,"f":290000},{"s":"b4","t":72,"f":280000},{"s":"b4","t":73,"f":225000},{"s":"b4","t":74,"f":150000},{"s":"b4","t":74.5,"f":140000},{"s":"b4","t":75,"f":150000},{"s":"b4","t":76,"f":250000},{"s":"b4","t":76.5,"f":330000},{"s":"b4","t":77,"f":360000},{"s":"b4","t":77.5,"f":310000},{"s":"b4","t":78,"f":210000},{"s":"b4","t":79,"f":160000},{"s":"b4","t":80,"f":140000},{"s":"b4","t":80.5,"f":110000},{"s":"b4","t":81,"f":65000},{"s":"b4","t":82,"f":22000},{"s":"b4","t":83,"f":15000},{"s":"b4","t":85,"f":13000},{"s":"b4","t":90,"f":11000},
{"s":"b5","t":65,"f":130000},{"s":"b5","t":65.4,"f":105000},{"s":"b5","t":66,"f":125000},{"s":"b5","t":67,"f":150000},{"s":"b5","t":68,"f":175000},{"s":"b5","t":69,"f":205000},{"s":"b5","t":70,"f":240000},{"s":"b5","t":71,"f":265000},{"s":"b5","t":71.5,"f":268000},{"s":"b5","t":72,"f":255000},{"s":"b5","t":73,"f":205000},{"s":"b5","t":74,"f":140000},{"s":"b5","t":74.5,"f":130000},{"s":"b5","t":75,"f":140000},{"s":"b5","t":76,"f":230000},{"s":"b5","t":76.5,"f":300000},{"s":"b5","t":77,"f":340000},{"s":"b5","t":77.5,"f":290000},{"s":"b5","t":78,"f":200000},{"s":"b5","t":79,"f":190000},{"s":"b5","t":80,"f":165000},{"s":"b5","t":80.5,"f":130000},{"s":"b5","t":81,"f":75000},{"s":"b5","t":82,"f":22000},{"s":"b5","t":83,"f":15000},{"s":"b5","t":85,"f":13000},{"s":"b5","t":90,"f":11000},
{"s":"b6","t":65,"f":120000},{"s":"b6","t":65.4,"f":98000},{"s":"b6","t":66,"f":118000},{"s":"b6","t":67,"f":140000},{"s":"b6","t":68,"f":165000},{"s":"b6","t":69,"f":195000},{"s":"b6","t":70,"f":225000},{"s":"b6","t":71,"f":250000},{"s":"b6","t":71.5,"f":255000},{"s":"b6","t":72,"f":245000},{"s":"b6","t":73,"f":190000},{"s":"b6","t":74,"f":125000},{"s":"b6","t":74.5,"f":112000},{"s":"b6","t":75,"f":115000},{"s":"b6","t":76,"f":170000},{"s":"b6","t":76.5,"f":240000},{"s":"b6","t":77,"f":285000},{"s":"b6","t":77.5,"f":250000},{"s":"b6","t":78,"f":190000},{"s":"b6","t":79,"f":195000},{"s":"b6","t":80,"f":175000},{"s":"b6","t":80.5,"f":150000},{"s":"b6","t":81,"f":90000},{"s":"b6","t":82,"f":25000},{"s":"b6","t":83,"f":15000},{"s":"b6","t":85,"f":13000},{"s":"b6","t":90,"f":11000},
{"s":"b7","t":65,"f":110000},{"s":"b7","t":65.4,"f":90000},{"s":"b7","t":66,"f":108000},{"s":"b7","t":67,"f":130000},{"s":"b7","t":68,"f":150000},{"s":"b7","t":69,"f":175000},{"s":"b7","t":70,"f":205000},{"s":"b7","t":71,"f":235000},{"s":"b7","t":71.5,"f":240000},{"s":"b7","t":72,"f":230000},{"s":"b7","t":73,"f":175000},{"s":"b7","t":74,"f":115000},{"s":"b7","t":74.5,"f":105000},{"s":"b7","t":75,"f":105000},{"s":"b7","t":76,"f":150000},{"s":"b7","t":76.5,"f":190000},{"s":"b7","t":77,"f":210000},{"s":"b7","t":77.5,"f":185000},{"s":"b7","t":78,"f":140000},{"s":"b7","t":79,"f":110000},{"s":"b7","t":80,"f":170000},{"s":"b7","t":80.5,"f":175000},{"s":"b7","t":81,"f":110000},{"s":"b7","t":82,"f":28000},{"s":"b7","t":83,"f":15000},{"s":"b7","t":85,"f":13000},{"s":"b7","t":90,"f":11000},
{"s":"b8","t":65,"f":100000},{"s":"b8","t":65.4,"f":78000},{"s":"b8","t":66,"f":95000},{"s":"b8","t":67,"f":115000},{"s":"b8","t":68,"f":135000},{"s":"b8","t":69,"f":160000},{"s":"b8","t":70,"f":190000},{"s":"b8","t":71,"f":215000},{"s":"b8","t":71.5,"f":220000},{"s":"b8","t":72,"f":210000},{"s":"b8","t":73,"f":160000},{"s":"b8","t":74,"f":110000},{"s":"b8","t":74.5,"f":100000},{"s":"b8","t":75,"f":95000},{"s":"b8","t":76,"f":105000},{"s":"b8","t":76.5,"f":120000},{"s":"b8","t":77,"f":130000},{"s":"b8","t":77.5,"f":125000},{"s":"b8","t":78,"f":100000},{"s":"b8","t":79,"f":120000},{"s":"b8","t":80,"f":110000},{"s":"b8","t":80.5,"f":90000},{"s":"b8","t":81,"f":60000},{"s":"b8","t":82,"f":20000},{"s":"b8","t":83,"f":15000},{"s":"b8","t":85,"f":13000},{"s":"b8","t":90,"f":11000}
],
"D_grey":[
{"s":"g1","t":65,"f":100000},{"s":"g1","t":65.4,"f":75000},{"s":"g1","t":66,"f":85000},{"s":"g1","t":67,"f":100000},{"s":"g1","t":68,"f":115000},{"s":"g1","t":69,"f":140000},{"s":"g1","t":70,"f":185000},{"s":"g1","t":71,"f":260000},{"s":"g1","t":71.5,"f":310000},{"s":"g1","t":72,"f":385000},{"s":"g1","t":73,"f":280000},{"s":"g1","t":74,"f":140000},{"s":"g1","t":74.5,"f":85000},{"s":"g1","t":75,"f":60000},{"s":"g1","t":76,"f":55000},{"s":"g1","t":76.5,"f":60000},{"s":"g1","t":77,"f":75000},{"s":"g1","t":77.5,"f":85000},{"s":"g1","t":78,"f":120000},{"s":"g1","t":79,"f":250000},{"s":"g1","t":80,"f":420000},{"s":"g1","t":80.5,"f":448000},{"s":"g1","t":81,"f":330000},{"s":"g1","t":82,"f":60000},{"s":"g1","t":83,"f":15000},{"s":"g1","t":85,"f":12000},{"s":"g1","t":90,"f":10000},
{"s":"g2","t":65,"f":75000},{"s":"g2","t":65.4,"f":55000},{"s":"g2","t":66,"f":70000},{"s":"g2","t":67,"f":85000},{"s":"g2","t":68,"f":100000},{"s":"g2","t":69,"f":140000},{"s":"g2","t":70,"f":120000},{"s":"g2","t":71,"f":200000},{"s":"g2","t":71.5,"f":250000},{"s":"g2","t":72,"f":300000},{"s":"g2","t":73,"f":220000},{"s":"g2","t":74,"f":110000},{"s":"g2","t":74.5,"f":75000},{"s":"g2","t":75,"f":60000},{"s":"g2","t":76,"f":55000},{"s":"g2","t":76.5,"f":60000},{"s":"g2","t":77,"f":70000},{"s":"g2","t":77.5,"f":80000},{"s":"g2","t":78,"f":100000},{"s":"g2","t":79,"f":200000},{"s":"g2","t":80,"f":330000},{"s":"g2","t":80.5,"f":355000},{"s":"g2","t":81,"f":290000},{"s":"g2","t":82,"f":55000},{"s":"g2","t":83,"f":15000},{"s":"g2","t":85,"f":12000},{"s":"g2","t":90,"f":10000},
{"s":"g3","t":65,"f":145000},{"s":"g3","t":65.4,"f":125000},{"s":"g3","t":66,"f":140000},{"s":"g3","t":67,"f":165000},{"s":"g3","t":68,"f":185000},{"s":"g3","t":69,"f":200000},{"s":"g3","t":70,"f":215000},{"s":"g3","t":71,"f":260000},{"s":"g3","t":71.5,"f":290000},{"s":"g3","t":72,"f":340000},{"s":"g3","t":73,"f":250000},{"s":"g3","t":74,"f":135000},{"s":"g3","t":74.5,"f":110000},{"s":"g3","t":75,"f":100000},{"s":"g3","t":76,"f":120000},{"s":"g3","t":76.5,"f":150000},{"s":"g3","t":77,"f":175000},{"s":"g3","t":77.5,"f":170000},{"s":"g3","t":78,"f":160000},{"s":"g3","t":79,"f":140000},{"s":"g3","t":80,"f":130000},{"s":"g3","t":80.5,"f":110000},{"s":"g3","t":81,"f":70000},{"s":"g3","t":82,"f":20000},{"s":"g3","t":83,"f":14000},{"s":"g3","t":85,"f":12000},{"s":"g3","t":90,"f":10000},
{"s":"g4","t":65,"f":80000},{"s":"g4","t":65.4,"f":60000},{"s":"g4","t":66,"f":75000},{"s":"g4","t":67,"f":90000},{"s":"g4","t":68,"f":100000},{"s":"g4","t":69,"f":110000},{"s":"g4","t":70,"f":120000},{"s":"g4","t":71,"f":150000},{"s":"g4","t":71.5,"f":175000},{"s":"g4","t":72,"f":200000},{"s":"g4","t":73,"f":140000},{"s":"g4","t":74,"f":80000},{"s":"g4","t":74.5,"f":65000},{"s":"g4","t":75,"f":55000},{"s":"g4","t":76,"f":60000},{"s":"g4","t":76.5,"f":75000},{"s":"g4","t":77,"f":90000},{"s":"g4","t":77.5,"f":85000},{"s":"g4","t":78,"f":80000},{"s":"g4","t":79,"f":110000},{"s":"g4","t":80,"f":140000},{"s":"g4","t":80.5,"f":120000},{"s":"g4","t":81,"f":80000},{"s":"g4","t":82,"f":20000},{"s":"g4","t":83,"f":14000},{"s":"g4","t":85,"f":12000},{"s":"g4","t":90,"f":10000}
],
"D_yellow":[
{"s":"y1","t":65,"f":130000},{"s":"y1","t":65.4,"f":110000},{"s":"y1","t":66,"f":145000},{"s":"y1","t":67,"f":190000},{"s":"y1","t":68,"f":235000},{"s":"y1","t":69,"f":275000},{"s":"y1","t":70,"f":265000},{"s":"y1","t":71,"f":330000},{"s":"y1","t":71.5,"f":350000},{"s":"y1","t":72,"f":300000},{"s":"y1","t":73,"f":200000},{"s":"y1","t":74,"f":120000},{"s":"y1","t":74.5,"f":110000},{"s":"y1","t":75,"f":115000},{"s":"y1","t":76,"f":170000},{"s":"y1","t":76.5,"f":230000},{"s":"y1","t":77,"f":250000},{"s":"y1","t":77.5,"f":230000},{"s":"y1","t":78,"f":170000},{"s":"y1","t":79,"f":130000},{"s":"y1","t":80,"f":140000},{"s":"y1","t":80.5,"f":120000},{"s":"y1","t":81,"f":70000},{"s":"y1","t":82,"f":20000},{"s":"y1","t":83,"f":14000},{"s":"y1","t":85,"f":12000},{"s":"y1","t":90,"f":10000},
{"s":"y2","t":65,"f":105000},{"s":"y2","t":65.4,"f":85000},{"s":"y2","t":66,"f":100000},{"s":"y2","t":67,"f":110000},{"s":"y2","t":68,"f":125000},{"s":"y2","t":69,"f":140000},{"s":"y2","t":70,"f":160000},{"s":"y2","t":71,"f":185000},{"s":"y2","t":71.5,"f":195000},{"s":"y2","t":72,"f":195000},{"s":"y2","t":73,"f":160000},{"s":"y2","t":74,"f":110000},{"s":"y2","t":74.5,"f":95000},{"s":"y2","t":75,"f":90000},{"s":"y2","t":76,"f":70000},{"s":"y2","t":76.5,"f":55000},{"s":"y2","t":77,"f":50000},{"s":"y2","t":77.5,"f":55000},{"s":"y2","t":78,"f":80000},{"s":"y2","t":79,"f":180000},{"s":"y2","t":80,"f":290000},{"s":"y2","t":80.5,"f":305000},{"s":"y2","t":81,"f":240000},{"s":"y2","t":82,"f":50000},{"s":"y2","t":83,"f":14000},{"s":"y2","t":85,"f":12000},{"s":"y2","t":90,"f":10000},
{"s":"y3","t":65,"f":110000},{"s":"y3","t":65.4,"f":90000},{"s":"y3","t":66,"f":105000},{"s":"y3","t":67,"f":120000},{"s":"y3","t":68,"f":140000},{"s":"y3","t":69,"f":160000},{"s":"y3","t":70,"f":180000},{"s":"y3","t":71,"f":205000},{"s":"y3","t":71.5,"f":210000},{"s":"y3","t":72,"f":205000},{"s":"y3","t":73,"f":170000},{"s":"y3","t":74,"f":125000},{"s":"y3","t":74.5,"f":115000},{"s":"y3","t":75,"f":115000},{"s":"y3","t":76,"f":125000},{"s":"y3","t":76.5,"f":140000},{"s":"y3","t":77,"f":150000},{"s":"y3","t":77.5,"f":150000},{"s":"y3","t":78,"f":160000},{"s":"y3","t":79,"f":250000},{"s":"y3","t":80,"f":270000},{"s":"y3","t":80.5,"f":230000},{"s":"y3","t":81,"f":150000},{"s":"y3","t":82,"f":35000},{"s":"y3","t":83,"f":14000},{"s":"y3","t":85,"f":12000},{"s":"y3","t":90,"f":10000},
{"s":"y4","t":65,"f":65000},{"s":"y4","t":65.4,"f":50000},{"s":"y4","t":66,"f":70000},{"s":"y4","t":67,"f":85000},{"s":"y4","t":68,"f":90000},{"s":"y4","t":69,"f":100000},{"s":"y4","t":70,"f":120000},{"s":"y4","t":71,"f":145000},{"s":"y4","t":71.5,"f":150000},{"s":"y4","t":72,"f":150000},{"s":"y4","t":73,"f":130000},{"s":"y4","t":74,"f":100000},{"s":"y4","t":74.5,"f":90000},{"s":"y4","t":75,"f":85000},{"s":"y4","t":76,"f":100000},{"s":"y4","t":76.5,"f":110000},{"s":"y4","t":77,"f":115000},{"s":"y4","t":77.5,"f":110000},{"s":"y4","t":78,"f":100000},{"s":"y4","t":79,"f":180000},{"s":"y4","t":80,"f":220000},{"s":"y4","t":80.5,"f":180000},{"s":"y4","t":81,"f":110000},{"s":"y4","t":82,"f":30000},{"s":"y4","t":83,"f":14000},{"s":"y4","t":85,"f":12000},{"s":"y4","t":90,"f":10000},
{"s":"y5","t":65,"f":95000},{"s":"y5","t":65.4,"f":75000},{"s":"y5","t":66,"f":90000},{"s":"y5","t":67,"f":100000},{"s":"y5","t":68,"f":110000},{"s":"y5","t":69,"f":120000},{"s":"y5","t":70,"f":125000},{"s":"y5","t":71,"f":140000},{"s":"y5","t":71.5,"f":150000},{"s":"y5","t":72,"f":150000},{"s":"y5","t":73,"f":130000},{"s":"y5","t":74,"f":95000},{"s":"y5","t":74.5,"f":85000},{"s":"y5","t":75,"f":85000},{"s":"y5","t":76,"f":95000},{"s":"y5","t":76.5,"f":100000},{"s":"y5","t":77,"f":110000},{"s":"y5","t":77.5,"f":110000},{"s":"y5","t":78,"f":90000},{"s":"y5","t":79,"f":80000},{"s":"y5","t":80,"f":100000},{"s":"y5","t":80.5,"f":90000},{"s":"y5","t":81,"f":60000},{"s":"y5","t":82,"f":18000},{"s":"y5","t":83,"f":13000},{"s":"y5","t":85,"f":11000},{"s":"y5","t":90,"f":9000}
]
},
"vconcat":[
{"hconcat":[
 {"title":{"text":"A.","anchor":"start","font":"Liberation Sans, Arial, sans-serif","fontSize":46,"fontWeight":"bold","dx":0,"offset":-36,"frame":"bounds"},
  "vconcat":[{
  "width":469,"height":372,
  "title":{"text":"Derivative Melt Curves"},
  "layer":[
   {"data":{"name":"A_green"},"mark":{"type":"line","interpolate":"monotone","color":"#1b8a47","strokeWidth":1.2,"clip":true},
    "encoding":{"x":{"field":"t","type":"quantitative","scale":{"domain":[62.92,89.9],"nice":false,"zero":false},"axis":{"values":[65,67.5,70,72.5,75,77.5,80,82.5,85,87.5],"format":".1f","title":"Temperature(°C)","titleX":297}},
     "y":{"field":"f","type":"quantitative","scale":{"domain":[0,788000],"nice":false},"axis":{"values":[0,50000,100000,150000,200000,250000,300000,350000,400000,450000,500000,550000,600000,650000,700000,750000],"tickCount":16,"format":",d","title":"Fluorescence","titleY":205,"labelOverlap":false}},
     "detail":{"field":"s"}}},
   {"data":{"values":[{}]},"mark":{"type":"rule","color":"#b0b0b0"},"encoding":{"y":{"datum":788000,"type":"quantitative"}}},
   {"data":{"name":"A_blue"},"mark":{"type":"line","interpolate":"monotone","color":"#2a2ab8","strokeWidth":1.3,"clip":true},"encoding":{"x":{"field":"t","type":"quantitative"},"y":{"field":"f","type":"quantitative"},"detail":{"field":"s"}}},
   {"data":{"name":"boxABC"},"mark":{"type":"rect","fill":null,"stroke":"#30308f","strokeWidth":1.3},"encoding":{"x":{"field":"x1","type":"quantitative"},"x2":{"field":"x2"},"y":{"field":"top","type":"quantitative"},"y2":{"datum":0}}},
   {"data":{"name":"triTopABC"},"mark":{"type":"point","shape":"triangle-up","filled":true,"size":55,"opacity":1},"encoding":{"x":{"field":"t","type":"quantitative"},"y":{"field":"f","type":"quantitative"},"color":{"field":"k","type":"nominal","scale":{"domain":["start","end"],"range":["#2fae3a","#c62828"]},"legend":null}}},
   {"data":{"name":"triBotABC"},"mark":{"type":"point","shape":"triangle-up","filled":true,"size":55,"opacity":1,"yOffset":3},"encoding":{"x":{"field":"t","type":"quantitative"},"y":{"field":"f","type":"quantitative"},"color":{"field":"k","type":"nominal","legend":null}}},
   {"data":{"name":"labABC"},"mark":{"type":"text","align":"left","baseline":"middle","font":"Liberation Sans, Arial, sans-serif","fontSize":15,"fontWeight":"bold","color":"#1b1ba8"},"encoding":{"x":{"field":"t","type":"quantitative"},"y":{"field":"f","type":"quantitative"},"text":{"field":"label"}}},
   {"data":{"values":[{"t":80.17,"f":628000,"tag":"M"}]},"mark":{"type":"text","align":"center","baseline":"middle","font":"Lato, sans-serif","fontSize":41,"color":"#ff0000"},"encoding":{"x":{"field":"t","type":"quantitative"},"y":{"field":"f","type":"quantitative"},"text":{"field":"tag"}}}
  ]}]},
 {"title":{"text":"B.","anchor":"start","font":"Liberation Sans, Arial, sans-serif","fontSize":46,"fontWeight":"bold","dx":5,"offset":-36,"frame":"bounds"},
  "vconcat":[{
  "width":463,"height":372,
  "title":{"text":"Derivative Melt Curves"},
  "layer":[
   {"data":{"name":"B_yellow"},"mark":{"type":"line","interpolate":"monotone","color":"#eeee22","strokeWidth":1.3,"clip":true},
    "encoding":{"x":{"field":"t","type":"quantitative","scale":{"domain":[62.88,89.37],"nice":false,"zero":false},"axis":{"values":[65,67.5,70,72.5,75,77.5,80,82.5,85,87.5],"format":".1f","title":"Temperature(°C)","titleX":297}},
     "y":{"field":"f","type":"quantitative","scale":{"domain":[0,788000],"nice":false},"axis":{"values":[0,50000,100000,150000,200000,250000,300000,350000,400000,450000,500000,550000,600000,650000,700000,750000],"tickCount":16,"format":",d","title":"Fluorescence","titleY":208,"labelOverlap":false}},
     "detail":{"field":"s"}}},
   {"data":{"values":[{}]},"mark":{"type":"rule","color":"#b0b0b0"},"encoding":{"y":{"datum":788000,"type":"quantitative"}}},
   {"data":{"name":"boxABC"},"mark":{"type":"rect","fill":null,"stroke":"#30308f","strokeWidth":1.3},"encoding":{"x":{"field":"x1","type":"quantitative"},"x2":{"field":"x2"},"y":{"field":"top","type":"quantitative"},"y2":{"datum":0}}},
   {"data":{"name":"triTopABC"},"mark":{"type":"point","shape":"triangle-up","filled":true,"size":55,"opacity":1},"encoding":{"x":{"field":"t","type":"quantitative"},"y":{"field":"f","type":"quantitative"},"color":{"field":"k","type":"nominal","scale":{"domain":["start","end"],"range":["#2fae3a","#c62828"]},"legend":null}}},
   {"data":{"name":"triBotABC"},"mark":{"type":"point","shape":"triangle-up","filled":true,"size":55,"opacity":1,"yOffset":3},"encoding":{"x":{"field":"t","type":"quantitative"},"y":{"field":"f","type":"quantitative"},"color":{"field":"k","type":"nominal","legend":null}}},
   {"data":{"name":"labABC"},"mark":{"type":"text","align":"left","baseline":"middle","font":"Liberation Sans, Arial, sans-serif","fontSize":15,"fontWeight":"bold","color":"#1b1ba8"},"encoding":{"x":{"field":"t","type":"quantitative"},"y":{"field":"f","type":"quantitative"},"text":{"field":"label"}}},
   {"data":{"values":[{"t":77.37,"f":483000,"tag":"UM"}]},"mark":{"type":"text","align":"center","baseline":"middle","font":"Lato, sans-serif","fontSize":41,"color":"#00b050"},"encoding":{"x":{"field":"t","type":"quantitative"},"y":{"field":"f","type":"quantitative"},"text":{"field":"tag"}}}
  ]}]}
 ],"spacing":51,"resolve":{"scale":{"x":"independent","y":"independent"}}},
{"hconcat":[
 {"title":{"text":"C.","anchor":"start","font":"Liberation Sans, Arial, sans-serif","fontSize":46,"fontWeight":"bold","dx":0,"offset":-22,"frame":"bounds"},
  "vconcat":[{
  "width":463,"height":366,
  "title":{"text":"Derivative Melt Curves","offset":9},
  "layer":[
   {"data":{"name":"C_yellow"},"mark":{"type":"line","interpolate":"monotone","color":"#eeee22","strokeWidth":1.4,"clip":true},
    "encoding":{"x":{"field":"t","type":"quantitative","scale":{"domain":[62.92,89.6],"nice":false,"zero":false},"axis":{"values":[65,67.5,70,72.5,75,77.5,80,82.5,85,87.5],"format":".1f","title":"Temperature(°C)","titleX":296}},
     "y":{"field":"f","type":"quantitative","scale":{"domain":[0,795000],"nice":false},"axis":{"values":[0,50000,100000,150000,200000,250000,300000,350000,400000,450000,500000,550000,600000,650000,700000,750000],"tickCount":16,"format":",d","title":"Fluorescence","titleY":202,"titlePadding":10,"labelOverlap":false}},
     "detail":{"field":"s"}}},
   {"data":{"values":[{}]},"mark":{"type":"rule","color":"#b0b0b0"},"encoding":{"y":{"datum":795000,"type":"quantitative"}}},
   {"data":{"name":"boxABC"},"mark":{"type":"rect","fill":null,"stroke":"#30308f","strokeWidth":1.3},"encoding":{"x":{"field":"x1","type":"quantitative"},"x2":{"field":"x2"},"y":{"field":"top","type":"quantitative"},"y2":{"datum":0}}},
   {"data":{"name":"triTopABC"},"mark":{"type":"point","shape":"triangle-up","filled":true,"size":55,"opacity":1},"encoding":{"x":{"field":"t","type":"quantitative"},"y":{"field":"f","type":"quantitative"},"color":{"field":"k","type":"nominal","scale":{"domain":["start","end"],"range":["#2fae3a","#c62828"]},"legend":null}}},
   {"data":{"name":"triBotABC"},"mark":{"type":"point","shape":"triangle-up","filled":true,"size":55,"opacity":1,"yOffset":3},"encoding":{"x":{"field":"t","type":"quantitative"},"y":{"field":"f","type":"quantitative"},"color":{"field":"k","type":"nominal","legend":null}}},
   {"data":{"name":"labABC"},"mark":{"type":"text","align":"left","baseline":"middle","font":"Liberation Sans, Arial, sans-serif","fontSize":15,"fontWeight":"bold","color":"#1b1ba8"},"encoding":{"x":{"field":"t","type":"quantitative"},"y":{"field":"f","type":"quantitative"},"text":{"field":"label"}}},
   {"data":{"values":[{"t":77.25,"f":451000,"tag":"UM"}]},"mark":{"type":"text","align":"center","baseline":"middle","font":"Lato, sans-serif","fontSize":41,"color":"#00b050"},"encoding":{"x":{"field":"t","type":"quantitative"},"y":{"field":"f","type":"quantitative"},"text":{"field":"tag"}}}
  ]}]},
 {"title":{"text":"D.","anchor":"start","font":"Liberation Sans, Arial, sans-serif","fontSize":46,"fontWeight":"bold","dx":-14,"offset":-27,"frame":"bounds"},
  "vconcat":[{
  "width":457,"height":371,
  "title":{"text":"Derivative Melt Curves","offset":8},
  "layer":[
   {"data":{"name":"D_yellow"},"mark":{"type":"line","interpolate":"monotone","color":"#e6e63a","strokeWidth":1.3,"clip":true},
    "encoding":{"x":{"field":"t","type":"quantitative","scale":{"domain":[62.94,89.1],"nice":false,"zero":false},"axis":{"values":[65,67.5,70,72.5,75,77.5,80,82.5,85,87.5],"format":".1f","title":"Temperature(°C)","titleX":298}},
     "y":{"field":"f","type":"quantitative","scale":{"domain":[0,710000],"nice":false},"axis":{"values":[0,50000,100000,150000,200000,250000,300000,350000,400000,450000,500000,550000,600000,650000,700000],"tickCount":15,"format":",d","title":"Fluorescence","titleY":206,"labelOverlap":false}},
     "detail":{"field":"s"}}},
   {"data":{"values":[{}]},"mark":{"type":"rule","color":"#b0b0b0"},"encoding":{"y":{"datum":710000,"type":"quantitative"}}},
   {"data":{"name":"D_grey"},"mark":{"type":"line","interpolate":"monotone","color":"#858585","strokeWidth":1.2,"clip":true},"encoding":{"x":{"field":"t","type":"quantitative"},"y":{"field":"f","type":"quantitative"},"detail":{"field":"s"}}},
   {"data":{"name":"D_blue"},"mark":{"type":"line","interpolate":"monotone","color":"#2323c8","strokeWidth":1.3,"clip":true},"encoding":{"x":{"field":"t","type":"quantitative"},"y":{"field":"f","type":"quantitative"},"detail":{"field":"s"}}},
   {"data":{"name":"boxD"},"mark":{"type":"rect","fill":null,"stroke":"#30308f","strokeWidth":1.3},"encoding":{"x":{"field":"x1","type":"quantitative"},"x2":{"field":"x2"},"y":{"field":"top","type":"quantitative"},"y2":{"datum":0}}},
   {"data":{"name":"triTopD"},"mark":{"type":"point","shape":"triangle-up","filled":true,"size":55,"opacity":1},"encoding":{"x":{"field":"t","type":"quantitative"},"y":{"field":"f","type":"quantitative"},"color":{"field":"k","type":"nominal","scale":{"domain":["start","end"],"range":["#2fae3a","#c62828"]},"legend":null}}},
   {"data":{"name":"triBotD"},"mark":{"type":"point","shape":"triangle-up","filled":true,"size":55,"opacity":1,"yOffset":3},"encoding":{"x":{"field":"t","type":"quantitative"},"y":{"field":"f","type":"quantitative"},"color":{"field":"k","type":"nominal","legend":null}}},
   {"data":{"name":"labD"},"mark":{"type":"text","align":"left","baseline":"middle","font":"Liberation Sans, Arial, sans-serif","fontSize":15,"fontWeight":"bold","color":"#1b1ba8"},"encoding":{"x":{"field":"t","type":"quantitative"},"y":{"field":"f","type":"quantitative"},"text":{"field":"label"}}},
   {"data":{"values":[{"t":76.97,"f":479000,"tag":"UM"}]},"mark":{"type":"text","align":"center","baseline":"middle","font":"Lato, sans-serif","fontSize":41,"color":"#00b050","opacity":1},"encoding":{"x":{"field":"t","type":"quantitative"},"y":{"field":"f","type":"quantitative"},"text":{"field":"tag"}}},
   {"data":{"values":[{"t":80.35,"f":517000,"tag":"M"}]},"mark":{"type":"text","align":"center","baseline":"middle","font":"Lato, sans-serif","fontSize":41,"color":"#ff0000","opacity":1},"encoding":{"x":{"field":"t","type":"quantitative"},"y":{"field":"f","type":"quantitative"},"text":{"field":"tag"}}}
  ]}]}
 ],"spacing":72,"resolve":{"scale":{"x":"independent","y":"independent"}}}
]
}
